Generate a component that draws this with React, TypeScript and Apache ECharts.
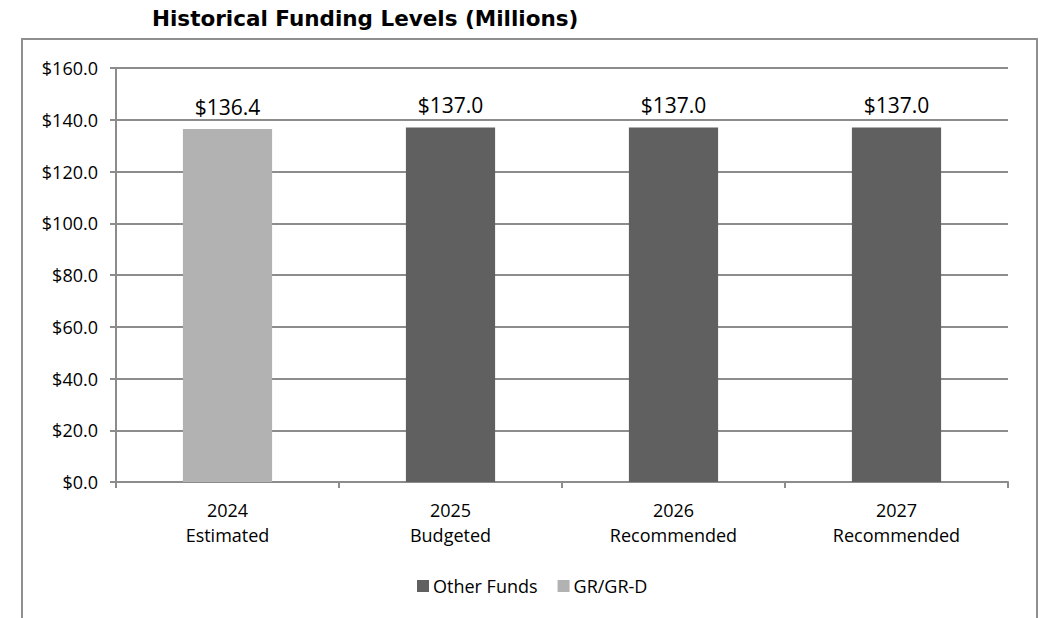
import React, { useEffect, useRef } from "react";
import * as echarts from "echarts";

const categories = ["2024\nEstimated", "2025\nBudgeted", "2026\nRecommended", "2027\nRecommended"];
const otherFunds: (number | null)[] = [null, 137.0, 137.0, 137.0];
const grFunds: (number | null)[] = [136.4, null, null, null];
const seriesNames = ["Other Funds", "GR/GR-D"];
const titleText = "Historical Funding Levels (Millions)";

const FONT = "'Open Sans', 'Liberation Sans', sans-serif";

export default function App() {
  const ref = useRef<HTMLDivElement>(null);
  useEffect(() => {
    if (!ref.current) return;
    const chart = echarts.init(ref.current, undefined, { renderer: "svg" });
    const labelCfg = {
      show: true,
      position: "top" as const,
      distance: 12,
      fontFamily: FONT,
      fontSize: 21,
      color: "#000",
      formatter: (p: any) => (p.value == null ? "" : "$" + Number(p.value).toFixed(1)),
    };
    chart.setOption({
      animation: false,
      backgroundColor: "#fff",
      graphic: [
        {
          type: "rect",
          shape: { x: 22, y: 39, width: 1015, height: 620 },
          style: { fill: "none", stroke: "#8f8f8f", lineWidth: 2 },
          silent: true,
          z: -1,
        },
        {
          type: "text",
          x: 152,
          y: 18,
          style: {
            text: titleText,
            fontFamily: "'DejaVu Sans', sans-serif",
            fontWeight: "bold",
            fontSize: 21.5,
            fill: "#000",
            verticalAlign: "middle",
            align: "left",
          },
        },
      ],
      legend: {
        left: 412,
        top: 572,
        itemWidth: 12,
        itemHeight: 12,
        itemGap: 20,
        icon: "rect",
        data: seriesNames,
        textStyle: { fontFamily: FONT, fontSize: 18, color: "#000", padding: [0, 0, 0, -1] },
      },
      grid: { left: 116, right: 37, top: 68, bottom: 136, containLabel: false },
      xAxis: {
        type: "category",
        data: categories,
        axisLine: { show: true, lineStyle: { color: "#8c8c8c", width: 2 } },
        axisTick: { show: true, length: 6, lineStyle: { color: "#8c8c8c", width: 2 } },
        axisLabel: {
          margin: 15,
          fontFamily: FONT,
          fontSize: 18,
          lineHeight: 25,
          color: "#000",
        },
      },
      yAxis: {
        type: "value",
        min: 0,
        max: 160,
        interval: 20,
        axisLine: { show: true, lineStyle: { color: "#8c8c8c", width: 2 } },
        axisTick: { show: true, length: 6, lineStyle: { color: "#8c8c8c", width: 2 } },
        splitLine: { show: true, lineStyle: { color: "#8c8c8c", width: 2 } },
        axisLabel: {
          margin: 18,
          fontFamily: FONT,
          fontSize: 18,
          color: "#000",
          formatter: (v: number) => "$" + v.toFixed(1),
        },
      },
      series: [
        {
          name: seriesNames[0],
          type: "bar",
          stack: "total",
          data: otherFunds,
          barWidth: "40%",
          itemStyle: { color: "#606060" },
          label: labelCfg,
        },
        {
          name: seriesNames[1],
          type: "bar",
          stack: "total",
          data: grFunds,
          barWidth: "40%",
          itemStyle: { color: "#b2b2b2" },
          label: labelCfg,
        },
      ],
    });
    return () => chart.dispose();
  }, []);
  return (
    <div
      ref={ref}
      style={{ position: "fixed", left: 0, top: 0, width: 1045, height: 618, background: "#fff" }}
    />
  );
}
